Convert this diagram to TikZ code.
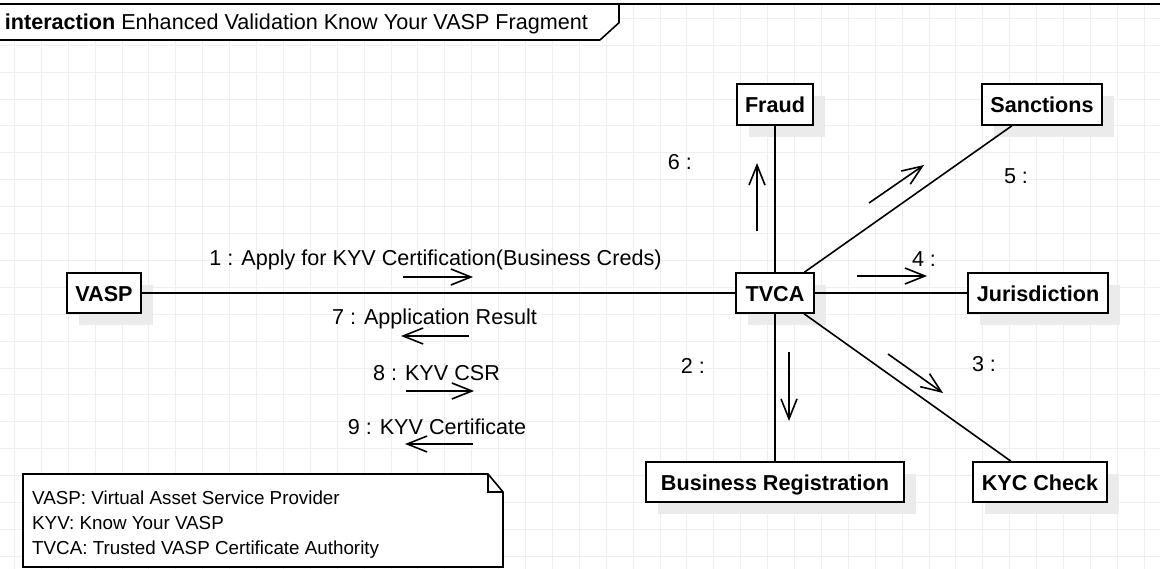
\documentclass[tikz,border=0pt]{standalone}
\usepackage{fontspec}
\setmainfont{Liberation Sans}
\usetikzlibrary{arrows.meta,shadows}
\definecolor{gridgray}{HTML}{EFEFEF}
\definecolor{shadowgray}{HTML}{EBEBEB}

\begin{document}
\begin{tikzpicture}[x=1pt,y=-1pt,
  obj/.style={draw=black, line width=1.6pt, fill=white, inner sep=0pt,
    minimum height=40pt, text height=18pt, text depth=1.6pt,
    font=\fontsize{21.6}{26}\selectfont\bfseries,
    general shadow={fill=shadowgray, shadow xshift=12pt, shadow yshift=-12pt}},
  link/.style={line width=1.6pt},
  msg/.style={line width=1.6pt, -{Straight Barb[length=20pt,width=16pt]}},
  lbl/.style={inner sep=0pt, font=\fontsize{21.6}{26}\selectfont},
]
\useasboundingbox (0,0) rectangle (1160,569);

% background grid
\foreach \i in {0,...,42} {
  \draw[gridgray, line width=0.7pt] ({14.3+26.9*\i},4) -- ({14.3+26.9*\i},569);
}
\foreach \j in {0,...,20} {
  \draw[gridgray, line width=0.7pt] (0,{18.2+26.9*\j}) -- (1160,{18.2+26.9*\j});
}

% frame and its name tab
\fill[white] (0,4) -- (619,4) -- (619,22.7) -- (600,40) -- (0,40) -- cycle;
\draw[line width=1.5pt] (0,4) -- (1160,4);
\draw[line width=1.6pt] (619,4) -- (619,22.7) -- (600,40);
\draw[line width=2.2pt] (600,40) -- (0,40);
\node[lbl, anchor=west] (hdr) at (4.7,24)
  {\textbf{interaction} Enhanced Validation Know Your VASP Fragment};

% objects
\node[obj, minimum width=74pt] (vasp) at (104,293) {VASP};
\node[obj, minimum width=78pt] (tvca) at (775,293) {TVCA};
\node[obj, minimum width=140pt] (juris) at (1038,293) {Jurisdiction};
\node[obj, minimum width=76pt, minimum height=41pt] (fraud) at (775,104.5) {Fraud};
\node[obj, minimum width=120pt, minimum height=41pt] (sanc) at (1042,104.5) {Sanctions};
\node[obj, minimum width=258pt] (bizreg) at (775,482) {Business Registration};
\node[obj, minimum width=134pt] (kyc) at (1040,482) {KYC Check};

% links
\draw[link] (vasp) -- (tvca);
\draw[link] (tvca) -- (fraud);
\draw[link] (tvca) -- (sanc);
\draw[link] (tvca) -- (juris);
\draw[link] (tvca) -- (kyc);
\draw[link] (tvca) -- (bizreg);

% messages
\node[lbl] (m1) at (435.5,260) {1 : Apply for KYV Certification(Business Creds)};
\coordinate (m1a) at (403,277); \coordinate (m1b) at (473,277);
\draw[msg] (m1a) -- (m1b);

\node[lbl] (m7) at (434.5,319) {7 : Application Result};
\coordinate (m7a) at (469,336); \coordinate (m7b) at (401,336);
\draw[msg] (m7a) -- (m7b);

\node[lbl] (m8) at (436.5,373.5) {8 : KYV CSR};
\coordinate (m8a) at (406,391); \coordinate (m8b) at (474,391);
\draw[msg] (m8a) -- (m8b);

\node[lbl] (m9) at (437,427) {9 : KYV Certificate};
\coordinate (m9a) at (473,444); \coordinate (m9b) at (405,444);
\draw[msg] (m9a) -- (m9b);

\node[lbl] (m6) at (680,162) {6 :};
\coordinate (m6a) at (757,231); \coordinate (m6b) at (757,163);
\draw[msg] (m6a) -- (m6b);

\node[lbl] (m5) at (1016,176) {5 :};
\coordinate (m5a) at (869,203); \coordinate (m5b) at (924,165);
\draw[msg] (m5a) -- (m5b);

\node[lbl] (m4) at (924,259) {4 :};
\coordinate (m4a) at (857,276); \coordinate (m4b) at (927,276);
\draw[msg] (m4a) -- (m4b);

\node[lbl] (m3) at (984,364) {3 :};
\coordinate (m3a) at (888,354); \coordinate (m3b) at (943,393);
\draw[msg] (m3a) -- (m3b);

\node[lbl] (m2) at (693,366) {2 :};
\coordinate (m2a) at (789,352); \coordinate (m2b) at (789,421);
\draw[msg] (m2a) -- (m2b);

% legend note
\draw[line width=1.6pt, fill=white] (23,474) -- (488,474) -- (503,492) -- (503,567) -- (23,567) -- cycle;
\draw[line width=1.6pt] (488,474) -- (488,492) -- (503,492);
\node[anchor=west, align=left, inner sep=0pt, font=\fontsize{18.8}{25}\selectfont] (legend) at (32,525)
  {VASP: Virtual Asset Service Provider\\KYV: Know Your VASP\\TVCA: Trusted VASP Certificate Authority};
\end{tikzpicture}
\end{document}
